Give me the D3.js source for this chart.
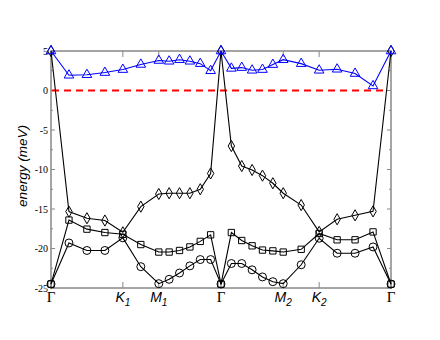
<!DOCTYPE html>
<html lang="en">
<head>
<meta charset="utf-8">
<title>energy bands</title>
<style>
  body { margin: 0; background: #fff; }
  .frame { fill: none; stroke: #888; stroke-width: 1.5px; }
  .tick line { stroke: #888; stroke-width: 1px; }
  .band { fill: none; stroke: #000; stroke-width: 1.1px; }
  .ylab { font-family: "Liberation Serif", serif; font-size: 10px; }
</style>
</head>
<body>
<div id="chart"></div>
<script src="https://cdn.jsdelivr.net/npm/d3@7"></script>
<script>
var width = 440,
    height = 340,
    margin = {top: 51, right: 49, bottom: 52, left: 51};

// k-path distance of every sample point (Γ-K1-M1-Γ-M2-K2-Γ)
var kpath = [0, 0.3333, 0.6667, 1.0, 1.3333, 1.6667, 2.0,
             2.1925, 2.3849, 2.5774, 2.7698, 2.9623, 3.1547,
             3.3472, 3.5396, 3.7321, 3.9245, 4.1170, 4.3094,
             4.6427, 4.9761, 5.3094, 5.6427, 5.9761, 6.3094];

var symPoints = [0, 1.3333, 2.0, 3.1547, 4.3094, 4.9761, 6.3094];
var symLabels = [["Γ"], ["K", "1"], ["M", "1"], ["Γ"], ["M", "2"], ["K", "2"], ["Γ"]];

var triangles = [5, 1.93, 2.0, 2.27, 2.65, 3.3, 3.8, 3.7, 3.9, 3.7, 3.4, 2.5, 5,
                 2.8, 2.9, 2.56, 2.65, 3.28, 3.9, 3.4, 2.56, 2.69, 2.15, 0.58, 5];
var diamonds = [5, -15.33, -16.17, -16.46, -17.95, -14.7, -13.1, -13.0, -13.0, -13.0, -12.5, -10.5, 5,
                -7.03, -9.56, -10.06, -10.78, -11.74, -13.0, -14.5, -17.9, -16.3, -15.8, -15.3, 5];
var squares = [-24.5, -16.4, -17.55, -17.98, -18.2, -19.5, -20.45, -20.45, -20.25, -19.8, -19.1, -18.27, -24.5,
               -17.98, -18.99, -19.66, -20.2, -20.3, -20.45, -20.1, -18.1, -18.9, -18.9, -17.9, -24.5];
var circles = [-24.5, -19.3, -20.25, -20.25, -18.65, -22.3, -24.45, -23.9, -23.1, -22.2, -21.4, -21.4, -24.5,
               -21.9, -21.9, -22.7, -23.6, -24.2, -24.45, -22.06, -18.7, -20.6, -20.6, -19.8, -24.5];

var yMajor = [-25, -20, -15, -10, -5, 0, 5];
var yMinor = [-22.5, -17.5, -12.5, -7.5, -2.5, 2.5];

var svg = d3.select("#chart").append("svg")
    .attr("width", width)
    .attr("height", height);

var x = d3.scaleLinear().domain([0, 6.3094]).range([margin.left, width - margin.right]);
var y = d3.scaleLinear().domain([-25, 5]).range([height - margin.bottom, margin.top]);

// ticks (inward on all four sides)
var g = svg.append("g").attr("class", "tick");
symPoints.forEach(function(k) {
  g.append("line").attr("x1", x(k)).attr("x2", x(k)).attr("y1", y(-25)).attr("y2", y(-25) - 6);
  g.append("line").attr("x1", x(k)).attr("x2", x(k)).attr("y1", y(5)).attr("y2", y(5) + 6);
});
yMajor.forEach(function(v) {
  g.append("line").attr("x1", x(0)).attr("x2", x(0) + 4).attr("y1", y(v)).attr("y2", y(v));
  g.append("line").attr("x1", x(6.3094)).attr("x2", x(6.3094) - 4).attr("y1", y(v)).attr("y2", y(v));
});
yMinor.forEach(function(v) {
  g.append("line").attr("x1", x(0)).attr("x2", x(0) + 2).attr("y1", y(v)).attr("y2", y(v));
  g.append("line").attr("x1", x(6.3094)).attr("x2", x(6.3094) - 2).attr("y1", y(v)).attr("y2", y(v));
});

svg.append("rect").attr("class", "frame")
    .attr("x", x(0)).attr("y", y(5))
    .attr("width", x(6.3094) - x(0)).attr("height", y(-25) - y(5));

// y tick labels
svg.selectAll(".ylab").data(yMajor).enter().append("text")
    .attr("class", "ylab")
    .attr("x", x(0) - 3)
    .attr("y", function(d) { return y(d) + 3.5; })
    .attr("text-anchor", "end")
    .text(function(d) { return d; });

// x labels at symmetry points
symPoints.forEach(function(k, i) {
  var lab = symLabels[i];
  var t = svg.append("text")
      .attr("x", x(k))
      .attr("y", y(-25) + 14)
      .attr("text-anchor", "middle");
  if (lab.length == 1) {
    t.style("font-family", "'Liberation Serif', serif").style("font-size", "15px").text(lab[0]);
  } else {
    t.style("font-family", "'Liberation Sans', Arial, sans-serif").style("font-size", "14px").style("font-style", "italic");
    t.append("tspan").text(lab[0]);
    t.append("tspan").attr("dy", 4).style("font-size", "10px").text(lab[1]);
  }
});

svg.append("text")
    .attr("transform", "translate(27,166) rotate(-90)")
    .attr("text-anchor", "middle")
    .style("font-family", "'Liberation Sans', Arial, sans-serif")
    .style("font-size", "13.5px")
    .style("font-style", "italic")
    .text("energy (meV)");

// fermi level
svg.append("line")
    .attr("x1", x(0) + 1).attr("x2", x(6.3094) - 4)
    .attr("y1", y(0)).attr("y2", y(0))
    .attr("stroke", "#ff0000")
    .attr("stroke-width", 2)
    .attr("stroke-dasharray", "7,5");

var line = d3.line()
    .x(function(d, i) { return x(kpath[i]); })
    .y(function(d) { return y(d); });

var bands = [
  {vals: circles, sym: d3.symbolCircle, size: 50, color: "#000"},
  {vals: squares, sym: d3.symbolSquare, size: 40, color: "#000"},
  {vals: diamonds, sym: d3.symbolDiamond, size: 36, color: "#000"},
  {vals: triangles, sym: d3.symbolTriangle, size: 40, color: "#0000ff"}
];

bands.forEach(function(b) {
  svg.append("path")
      .attr("class", "band")
      .style("stroke", b.color)
      .attr("d", line(b.vals));
  svg.selectAll(null).data(b.vals).enter().append("path")
      .attr("transform", function(d, i) { return "translate(" + x(kpath[i]) + "," + y(d) + ")"; })
      .attr("d", d3.symbol().type(b.sym).size(b.size))
      .attr("fill", "none")
      .attr("stroke", b.color)
      .attr("stroke-width", 1);
});
</script>
</body>
</html>
